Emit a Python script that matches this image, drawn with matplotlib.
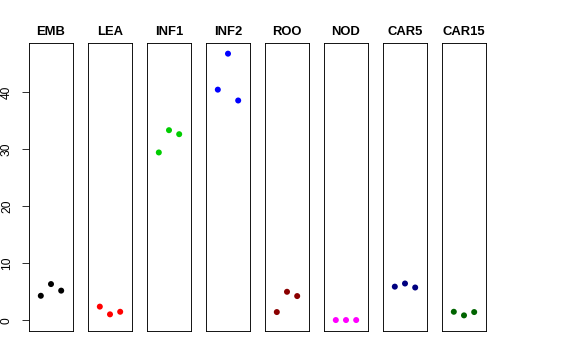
import matplotlib
matplotlib.use("Agg")
import matplotlib.pyplot as plt

plt.rcParams['font.family'] = ['Liberation Sans', 'DejaVu Sans']

groups = ["EMB", "LEA", "INF1", "INF2", "ROO", "NOD", "CAR5", "CAR15"]
colors = ["black", "red", "#00CD00", "blue", "#8B0000", "magenta", "#000080", "#006400"]
values = [
    [4.3, 6.35, 5.2],
    [2.4, 1.05, 1.5],
    [29.4, 33.3, 32.6],
    [40.4, 46.7, 38.5],
    [1.45, 5.0, 4.25],
    [0.05, 0.05, 0.05],
    [5.9, 6.45, 5.75],
    [1.5, 0.87, 1.45],
]
reps = [1, 2, 3]

ymin = 0.0
ymax = 46.7
pad_y = (ymax - ymin) * 0.04

fig = plt.figure(figsize=(8, 5), dpi=72)
W, H = 576.0, 360.0

for i, (g, c, v) in enumerate(zip(groups, colors, values)):
    left = 29 + i * 59
    ax = fig.add_axes([left / W, 29 / H, 44 / W, 288 / H])
    ax.scatter(reps, v, s=36, color=c, edgecolors="none", zorder=3)
    ax.set_xlim(-0.16, 4.16)
    ax.set_ylim(ymin - pad_y, ymax + pad_y)
    ax.set_xticks([])
    for sp in ax.spines.values():
        sp.set_linewidth(0.9)
        sp.set_color("black")
    ax.set_title(g, fontsize=13, fontweight="bold", pad=8)
    if i == 0:
        ax.set_yticks([0, 10, 20, 30, 40])
        ax.tick_params(axis="y", length=7, width=0.8, pad=9, labelsize=12)
        for lab in ax.get_yticklabels():
            lab.set_rotation(90)
            lab.set_va("center")
    else:
        ax.set_yticks([])

fig.savefig("out.png", dpi=72)
